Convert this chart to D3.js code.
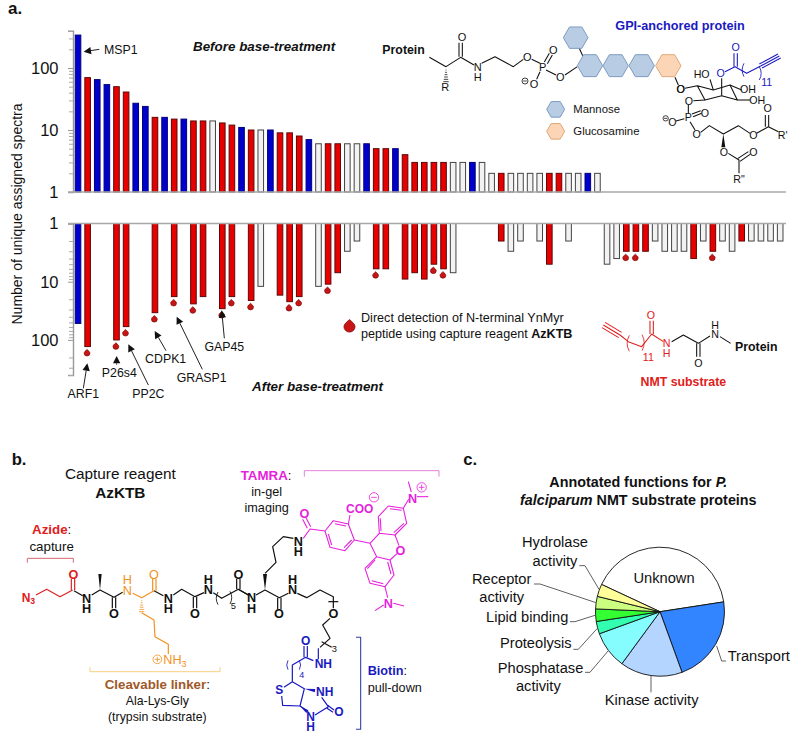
<!DOCTYPE html>
<html>
<head>
<meta charset="utf-8">
<script src="https://cdn.jsdelivr.net/npm/d3@7"></script>
<style>
html,body{margin:0;padding:0;background:#fff;}
text{font-family:"Liberation Sans",Arial,sans-serif;fill:#111;}
</style>
</head>
<body>
<div id="chart"></div>
<script>
const WIDTH=800;
const HEIGHT=735;

// one entry per protein, left to right. 0 = not seen in that experiment
const beforeValues=[340,70,65,54,50,41,27,24,16,16,15,15,14,14,14,13,12,11,10,10,10,9,9,8,7,6,6,6,6,6,6,5,5,5,4,3,3,3,3,3,3,3,3,2,2,2,2,2,2,2,2,2,2,2,2,0,0,0,0,0,0,0,0,0,0,0,0,0,0,0,0,0,0,0];
const afterValues=[52,130,0,0,100,59,0,0,34,0,18,0,24,18,0,29,18,0,21,12,0,17,22,18,0,12,11,7,3,2,0,6,6,0,9,7,9,5,6,7,0,0,0,0,2,3,2,0,2,5,0,2,0,0,0,5,4,3,3,3,2,3,3,3,4,2,3,2,3,2,2,2,2,2];
const proteinTypes=["b","r","b","b","r","r","b","b","r","b","r","b","r","r","w","r","r","b","r","w","b","r","r","r","b","w","r","r","w","w","b","r","r","b","r","r","r","r","r","w","w","b","w","w","r","w","w","w","w","r","r","w","w","b","w","w","w","r","r","r","w","w","w","w","r","w","r","w","w","r","w","w","w","w"];
const directDetection=[1,4,5,8,10,12,15,16,18,22,23,26,31,37,38,57,58,66];
const axisMajor=[1,10,100];
const axisMinor=[2,3,4,5,6,7,8,9,20,30,40,50,60,70,80,90,200,300,400];

const pieLabels=["Unknown","Transport","Kinase activity","Phosphatase activity","Proteolysis","Lipid binding","Receptor activity","Hydrolase activity"];
const pieValues=[13,7,5,3,1,1,1,1];
const pieColors=["#ffffff","#3385ff","#b3d5ff","#85fdff","#33ffb0","#33ff33","#ccff80","#ffff99"];

const BAR_FILL={b:"#0000cc",r:"#e60000",w:"#f2f2f2"};
const BAR_STROKE={b:"#00007a",r:"#5e0808",w:"#444"};
const RED="#e02020", BLUE="#1a1ac0", ORANGE="#f0921e", MAGENTA="#e61fdc", BLACK="#111";

const svg=d3.select("#chart").append("svg").attr("width",WIDTH).attr("height",HEIGHT).style("display","block");

function layer(x,y){
    return svg.append("g").attr("transform",`translate(${x},${y}) scale(${1/3})`);
}
function bonds(g,color,list,w){
    list.forEach(pts=>{
        g.append("polyline").attr("points",pts.join(" ")).attr("fill","none")
            .attr("stroke",color).attr("stroke-width",w||3.2).attr("stroke-linejoin","round");
    });
}
function rich(g,x,y,anchor,size,parts){
    const t=g.append("text").attr("x",x).attr("y",y).attr("text-anchor",anchor).attr("font-size",size);
    parts.forEach(p=>{
        const s=t.append("tspan").text(p[0]);
        const o=p[1]||{};
        if(o.bold) s.attr("font-weight","bold");
        if(o.italic) s.attr("font-style","italic");
        if(o.fill) s.style("fill",o.fill);
        if(o.dy) s.attr("dy",o.dy);
        if(o.size) s.attr("font-size",o.size);
    });
    return t;
}
function atoms(g,color,size,bold,list){
    list.forEach(a=>{
        rich(g,a[0],a[1]+size*0.36,"middle",size,[[a[2],{bold:bold,fill:color}]]);
    });
}
// N over H kept as one text, second line placed relative to the first
function stacked(g,color,size,bold,x,y,top,bottom,gap){
    const t=rich(g,x,y+size*0.36,"middle",size,[[top,{bold:bold,fill:color}]]);
    const s=t.append("tspan").attr("x",x).attr("dy",gap).text(bottom).style("fill",color);
    if(bold) s.attr("font-weight","bold");
}
function wedge(g,color,a,b,w){
    const dx=b[0]-a[0],dy=b[1]-a[1],l=Math.hypot(dx,dy);
    const nx=-dy/l*w,ny=dx/l*w;
    g.append("polygon").attr("points",[a,[b[0]+nx,b[1]+ny],[b[0]-nx,b[1]-ny]].join(" ")).attr("fill",color);
}
function hash(g,color,a,b,w){
    const n=6,dx=b[0]-a[0],dy=b[1]-a[1],l=Math.hypot(dx,dy);
    for(let i=1;i<=n;i++){
        const f=i/n,hw=w*f,nx=-dy/l*hw,ny=dx/l*hw,px=a[0]+dx*f,py=a[1]+dy*f;
        bonds(g,color,[[[px-nx,py-ny],[px+nx,py+ny]]],2.4);
    }
}
function hexagon(g,cx,cy,r,fill,stroke){
    const pts=d3.range(6).map(i=>[cx+r*Math.cos(i*Math.PI/3),cy+r*Math.sin(i*Math.PI/3)]);
    g.append("polygon").attr("points",pts.join(" ")).attr("fill",fill).attr("stroke",stroke).attr("stroke-width",3);
}
function circled(g,color,x,y,r,sign){
    g.append("circle").attr("cx",x).attr("cy",y).attr("r",r).attr("fill","none").attr("stroke",color).attr("stroke-width",2.4);
    bonds(g,color,[[[x-r*0.6,y],[x+r*0.6,y]]],2.4);
    if(sign==="+") bonds(g,color,[[[x,y-r*0.6],[x,y+r*0.6]]],2.4);
}
function paren(g,color,x,y,h,dir){
    g.append("path").attr("d",`M${x},${y-h} Q${x+dir*h*0.55},${y} ${x},${y+h}`).attr("fill","none").attr("stroke",color).attr("stroke-width",2.6);
}
function arrow(g,from,to,w){
    const dx=to[0]-from[0],dy=to[1]-from[1],l=Math.hypot(dx,dy),ux=dx/l,uy=dy/l;
    const base=[to[0]-ux*22,to[1]-uy*22];
    bonds(g,"#222",[[from,base]],w||3);
    g.append("polygon").attr("points",[to,[base[0]-uy*11,base[1]+ux*11],[base[0]+uy*11,base[1]-ux*11]].join(" ")).attr("fill","#111");
}
function drop(g,x,y,r){
    g.append("path")
        .attr("d",`M${x},${y-r*1.25} C${x+r*0.5},${y-r*0.8} ${x+r},${y-r*0.4} ${x+r},${y} A${r},${r} 0 1 1 ${x-r},${y} C${x-r},${y-r*0.4} ${x-r*0.5},${y-r*0.8} ${x},${y-r*1.25} Z`)
        .attr("fill","#c81414").attr("stroke","#7a0c0c").attr("stroke-width",0.7);
}

//Panel a, bars
const proteins=d3.range(proteinTypes.length);
const x=d3.scaleBand().domain(proteins).range([73.2,785]).padding(0);
const yTop=d3.scaleLog().domain([1,400]).range([192,30.7]);
const yBottom=d3.scaleLog().domain([1,400]).range([223.5,375]);
const BAR_W=5.6;
const barX=i=>x(i)+(x.bandwidth()-BAR_W)/2;

const gBars=svg.append("g").attr("stroke-width",1);
gBars.selectAll("rect.before").data(proteins.filter(i=>beforeValues[i]>0)).enter().append("rect")
    .attr("class","before")
    .attr("x",barX)
    .attr("y",i=>yTop(beforeValues[i]))
    .attr("width",BAR_W)
    .attr("height",i=>yTop(1)-yTop(beforeValues[i]))
    .attr("fill",i=>BAR_FILL[proteinTypes[i]])
    .attr("stroke",i=>BAR_STROKE[proteinTypes[i]]);
gBars.selectAll("rect.after").data(proteins.filter(i=>afterValues[i]>0)).enter().append("rect")
    .attr("class","after")
    .attr("x",barX)
    .attr("y",yBottom(1))
    .attr("width",BAR_W)
    .attr("height",i=>yBottom(afterValues[i])-yBottom(1))
    .attr("fill",i=>BAR_FILL[proteinTypes[i]])
    .attr("stroke",i=>BAR_STROKE[proteinTypes[i]]);

//Axes
function drawAxis(scale){
    const major=svg.append("g").attr("transform","translate(73,0)")
        .call(d3.axisLeft(scale).tickValues(axisMajor).tickSize(5).tickFormat(d3.format("d")));
    major.selectAll("line").attr("stroke","#999");
    major.select(".domain").attr("stroke","#999").attr("stroke-width",1.4);
    major.selectAll("text").attr("font-size",16.5).attr("x",-14.5).attr("font-family",null);
    const minor=svg.append("g").attr("transform","translate(73,0)")
        .call(d3.axisLeft(scale).tickValues(axisMinor).tickSize(4).tickFormat(""));
    minor.selectAll("line").attr("stroke","#aaa");
    minor.select(".domain").remove();
    svg.append("line").attr("x1",68).attr("x2",786).attr("y1",scale(1)).attr("y2",scale(1))
        .attr("stroke","#a8a8a8").attr("stroke-width",1.4);
}
drawAxis(yTop);
drawAxis(yBottom);

svg.append("text").attr("transform","translate(22,214) rotate(-90)").attr("text-anchor","middle")
    .attr("font-size",14).text("Number of unique assigned spectra");

//Direct detection markers
directDetection.forEach(i=>drop(svg,x(i)+x.bandwidth()/2-0.6,yBottom(afterValues[i])+6.5,2.9));

rich(svg,8,14,"start",17,[["a.",{bold:true}]]);
rich(svg,193,51,"start",13.4,[["Before base-treatment",{bold:true,italic:true}]]);
rich(svg,252,391,"start",13.4,[["After base-treatment",{bold:true,italic:true}]]);

drop(svg,349.5,326.5,5.6);
rich(svg,361,322,"start",12.6,[["Direct detection of N-terminal YnMyr"]]);
rich(svg,361,338,"start",12.6,[["peptide using capture reagent "],["AzKTB",{bold:true}]]);

//Protein name call-outs
const la=layer(0,0);
rich(la,312,162,"start",37,[["MSP1"]]);
arrow(la,[298,148],[251,155],3);
const lb=layer(0,210);
[["ARF1",250,565],["PP2C",445,565],["P26s4",358,500],["CDPK1",497,460],["GRASP1",605,515],["GAP45",673,422]].forEach(a=>{
    rich(lb,a[1],a[2],"middle",37,[[a[0]]]);
});
arrow(lb,[250,535],[262,460]);
arrow(lb,[350,464],[350,438]);
arrow(lb,[445,525],[385,403]);
arrow(lb,[498,422],[464,363]);
arrow(lb,[607,478],[530,320]);
arrow(lb,[673,385],[665,301]);

//GPI anchor
const gpi=layer(370,0);
rich(gpi,37,163,"start",37,[["Protein",{bold:true}]]);
rich(gpi,930,90,"middle",38,[["GPI-anchored protein",{bold:true,fill:BLUE}]]);
bonds(gpi,BLACK,[
    [[178,172],[228,200],[272,172],[312,195]],
    [[267,170],[267,128]],[[277,170],[277,128]],
    [[335,190],[375,170],[430,200],[460,178]],
    [[485,178],[510,190]],
    [[523,186],[538,160]],[[532,191],[547,165]],
    [[510,215],[500,238]],
    [[528,210],[558,225]],
    [[585,225],[622,200]],
    [[628,145],[638,167]],
    [[915,232],[925,255]]
]);
hash(gpi,BLACK,[228,203],[228,245],8);
atoms(gpi,BLACK,33,false,[[276,112,"O"],[226,260,"R"],[472,170,"O"],[518,200,"P"],[550,150,"O"],[492,253,"O"],[571,230,"O"],[932,267,"O"]]);
stacked(gpi,BLACK,33,false,323,200,"N","H",30);
circled(gpi,BLACK,465,243,9,"-");
hexagon(gpi,617,113,37,"#b8cce4","#7d9cc0");
[660,737,815].forEach(cx=>hexagon(gpi,cx,197,38,"#b8cce4","#7d9cc0"));
hexagon(gpi,895,197,38,"#fbd5b5","#e0a878");
hexagon(gpi,557,328,27,"#b8cce4","#7d9cc0");
hexagon(gpi,557,394,27,"#fbd5b5","#e0a878");
rich(gpi,610,340,"start",34,[["Mannose"]]);
rich(gpi,610,405,"start",34,[["Glucosamine"]]);

const ino=layer(660,40);
bonds(ino,BLACK,[
    [[75,145],[112,137],[135,180],[185,167],[232,180],[210,135],[160,150],[112,137]],
    [[160,150],[150,118]],
    [[185,115],[185,167]],
    [[210,135],[245,150]],
    [[232,180],[270,180]],
    [[135,180],[100,182]],
    [[85,193],[85,220]],
    [[96,222],[122,212]],[[99,230],[125,220]],
    [[73,236],[48,243]],
    [[90,245],[105,270]],
    [[122,277],[148,257],[190,282],[235,257],[270,280]],
    [[290,280],[325,260],[355,275]],
    [[316,260],[316,225]],[[326,260],[326,225]],
    [[205,340],[237,360],[237,400]],
    [[233,356],[265,335]],[[240,364],[270,343]]
]);
wedge(ino,BLACK,[190,282],[190,322],6);
atoms(ino,BLACK,32,false,[[62,148,"O"],[125,103,"HO"],[264,148,"OH"],[292,180,"OH"],[87,182,"O"],[85,232,"P"],[135,218,"O"],[37,247,"O"],[110,282,"O"],[280,285,"O"],[323,205,"O"],[368,285,"R'"],[192,337,"O"],[280,335,"O"],[237,418,'R"']]);
circled(ino,BLACK,17,235,8,"-");
bonds(ino,BLUE,[
    [[195,95],[225,80],[260,100],[302,78]],
    [[222,80],[222,40]],[[232,80],[232,40]],
    [[302,78],[358,48]],[[298,72],[354,42]],[[306,84],[362,54]]
]);
paren(ino,BLUE,252,90,20,-1);
paren(ino,BLUE,298,100,20,1);
atoms(ino,BLUE,32,false,[[182,100,"O"],[227,22,"O"],[320,125,"11"]]);

//NMT substrate
const nmt=layer(320,210);
bonds(nmt,RED,[
    [[850,345],[900,375]],[[855,337],[905,367]],[[846,353],[896,383]],
    [[900,375],[925,395],[965,410],[995,372],[1030,395]],
    [[990,372],[990,332]],[[1000,372],[1000,332]]
]);
paren(nmt,RED,928,400,24,-1);
paren(nmt,RED,966,398,24,1);
bonds(nmt,BLACK,[
    [[1055,395],[1090,375],[1135,400],[1170,378]],
    [[1130,400],[1130,440]],[[1140,400],[1140,440]],
    [[1200,380],[1232,400]]
]);
atoms(nmt,RED,32,false,[[993,316,"O"],[985,441,"11"]]);
stacked(nmt,RED,32,false,1040,400,"N","H",30);
atoms(nmt,BLACK,32,false,[[1135,460,"O"]]);
stacked(nmt,BLACK,32,false,1185,345,"H","N",27);
rich(nmt,1245,423,"start",37,[["Protein",{bold:true}]]);
rich(nmt,1090,527,"middle",37,[["NMT substrate",{bold:true,fill:RED}]]);

//Panel b
const b1=layer(0,430);
rich(b1,35,105,"start",50,[["b.",{bold:true}]]);
rich(b1,361,148,"middle",46,[["Capture reagent"]]);
rich(b1,361,203,"middle",46,[["AzKTB",{bold:true}]]);
rich(b1,155,313,"middle",40,[["Azide",{bold:true,fill:RED}],[":"]]);
rich(b1,155,362,"middle",40,[["capture"]]);
bonds(b1,"#d0505a",[[[82,398],[82,385],[220,385],[220,398]]],2.6);
bonds(b1,RED,[
    [[108,495],[140,478],[180,500],[218,480]],
    [[214,480],[214,447]],[[224,480],[224,447]]
],3.6);
rich(b1,65,515,"start",36,[["N",{bold:true,fill:RED}],["3",{bold:true,fill:RED,dy:8,size:26}]]);
atoms(b1,RED,38,true,[[220,432,"O"]]);
bonds(b1,BLACK,[
    [[222,482],[248,497]],
    [[275,495],[300,480],[342,502],[368,487]],
    [[337,502],[337,535]],[[347,502],[347,535]],
    [[490,497],[462,482]],
    [[520,495],[545,478],[585,500],[612,488]],
    [[580,500],[580,535]],[[590,500],[590,535]],
    [[640,488],[665,505],[715,478],[745,495]],
    [[710,478],[710,447]],[[720,478],[720,447]]
],3.6);
wedge(b1,BLACK,[300,480],[300,432],5);
paren(b1,BLACK,654,505,19,-1);
paren(b1,BLACK,690,503,19,1);
atoms(b1,BLACK,38,true,[[342,550,"O"],[585,550,"O"],[715,432,"O"]]);
stacked(b1,BLACK,38,true,260,505,"N","H",31);
stacked(b1,BLACK,38,true,505,505,"N","H",31);
stacked(b1,BLACK,38,true,625,447,"H","N",31);
atoms(b1,BLACK,28,false,[[700,527,"5"]]);
bonds(b1,ORANGE,[
    [[398,490],[425,503],[462,482]],
    [[458,482],[458,447]],[[468,482],[468,447]],
    [[425,548],[462,570],[465,620],[505,643],[505,672]]
],3.6);
hash(b1,ORANGE,[425,505],[425,545],8);
atoms(b1,ORANGE,38,false,[[462,432,"O"]]);
stacked(b1,ORANGE,38,false,382,447,"H","N",33);
circled(b1,ORANGE,472,688,13,"+");
rich(b1,490,702,"start",38,[["NH",{fill:ORANGE}],["3",{fill:ORANGE,dy:8,size:27}]]);
bonds(b1,"#f4c870",[[[270,712],[270,725],[660,725],[660,712]]],2.6);
rich(b1,472,777,"middle",40,[["Cleavable linker",{bold:true,fill:"#a05a28"}],[":"]]);
rich(b1,472,825,"middle",37,[["Ala-Lys-Gly"]]);
rich(b1,472,872,"middle",37,[["(trypsin substrate)"]]);

const b2=layer(220,430);
rich(b2,62,150,"start",40,[["TAMRA",{bold:true,fill:MAGENTA}],[":"]]);
rich(b2,140,197,"middle",38,[["in-gel"]]);
rich(b2,140,246,"middle",38,[["imaging"]]);
bonds(b2,"#e070d4",[[[253,140],[253,122],[657,122],[657,140]]],2.6);
bonds(b2,BLACK,[
    [[55,478],[85,495]],
    [[108,495],[135,480],[178,503],[205,490]],
    [[173,503],[173,538]],[[183,503],[183,538]],
    [[232,490],[260,503],[300,480],[340,500],[340,535]],
    [[325,515],[355,515]],
    [[330,565],[308,585],[330,625],[300,652]],
    [[305,635],[335,652]],
    [[135,430],[168,397],[158,350],[190,320],[220,325]]
],3.6);
wedge(b2,BLACK,[135,480],[135,432],6);
atoms(b2,BLACK,38,true,[[177,550,"O"],[340,550,"O"]]);
stacked(b2,BLACK,38,true,95,503,"N","H",32);
stacked(b2,BLACK,38,true,218,447,"H","N",31);
stacked(b2,BLACK,38,true,235,333,"N","H",32);
atoms(b2,BLACK,28,false,[[343,655,"3"]]);
bonds(b2,MAGENTA,[
    [[250,325],[270,297],[315,303],[340,272],[385,282],[403,330],[375,362],[330,352],[315,303]],
    [[262,295],[248,268]],[[272,290],[258,263]],
    [[345,281],[378,288]],[[395,330],[372,353]],[[335,345],[325,312]],
    [[385,282],[390,255]],
    [[403,330],[450,340]],
    [[450,340],[478,310],[475,260],[505,228],[550,235],[560,280],[525,315],[478,310]],
    [[483,303],[481,265]],[[510,236],[545,241]],[[552,280],[522,307]],
    [[525,315],[537,347]],
    [[450,340],[470,380],[435,415],[450,460],[495,470],[522,435],[510,390],[470,380]],
    [[465,390],[442,416]],[[455,452],[490,461]],[[513,432],[503,396]],
    [[510,390],[532,370]],
    [[550,235],[566,208]],
    [[565,155],[574,186]],[[591,200],[625,200]],
    [[495,470],[503,503]],[[491,525],[465,542]],[[520,520],[552,528]]
],3.2);
atoms(b2,MAGENTA,38,true,[[253,250,"O"],[578,204,"N"],[541,360,"O"],[505,520,"N"]]);
rich(b2,378,249,"start",36,[["COO",{bold:true,fill:MAGENTA}]]);
circled(b2,MAGENTA,462,202,14,"-");
circled(b2,MAGENTA,605,172,14,"+");

const biotin=layer(260,600);
bonds(biotin,BLUE,[
    [[175,145],[175,178]],
    [[160,182],[137,172],[97,195],[97,245],[72,262]],
    [[132,172],[132,138]],[[142,172],[142,138]],
    [[65,288],[68,316],[120,318],[133,266],[97,245]],
    [[120,318],[145,335]],
    [[185,292],[205,320],[165,345]],
    [[203,316],[222,330]],[[200,324],[219,337]]
],3.6);
wedge(biotin,BLUE,[133,266],[165,272],5);
wedge(biotin,BLUE,[120,318],[142,335],5);
paren(biotin,BLUE,84,195,14,-1);
paren(biotin,BLUE,118,195,14,1);
atoms(biotin,BLUE,36,true,[[137,122,"O"],[190,192,"NH"],[58,270,"S"],[194,274,"NH"],[237,335,"O"]]);
stacked(biotin,BLUE,36,true,152,350,"N","H",30);
atoms(biotin,BLUE,27,false,[[125,223,"4"]]);
bonds(biotin,"#2a3fa5",[[[288,112],[302,112],[302,388],[288,388]]],3.2);
rich(biotin,323,225,"start",38,[["Biotin",{bold:true,fill:BLUE}],[":"]]);
rich(biotin,323,277,"start",38,[["pull-down"]]);

//Panel c, pie
const pie=d3.pie().sort(null).startAngle(-65*Math.PI/180).endAngle(295*Math.PI/180);
const arc=d3.arc().innerRadius(0).outerRadius(64.5);
svg.append("g").attr("transform","translate(660,611.7)")
    .selectAll("path").data(pie(pieValues)).enter().append("path")
    .attr("d",arc)
    .attr("fill",(d,i)=>pieColors[i])
    .attr("stroke","#111")
    .attr("stroke-width",0.9);

const c=layer(460,440);
rich(c,10,75,"start",50,[["c.",{bold:true}]]);
rich(c,535,140,"middle",43,[["Annotated functions for ",{bold:true}],["P.",{bold:true,italic:true}]]);
rich(c,535,195,"middle",43,[["falciparum",{bold:true,italic:true}],[" NMT substrate proteins",{bold:true}]]);
rich(c,285,322,"middle",44,[["Hydrolase"]]);
rich(c,285,377,"middle",44,[["activity"]]);
rich(c,125,432,"middle",44,[["Receptor"]]);
rich(c,125,487,"middle",44,[["activity"]]);
rich(c,325,545,"end",44,[[pieLabels[5]]]);
rich(c,335,625,"end",44,[[pieLabels[4]]]);
rich(c,370,698,"end",44,[["Phosphatase"]]);
rich(c,235,752,"middle",44,[["activity"]]);
rich(c,612,428,"middle",44,[[pieLabels[0]]]);
rich(c,803,663,"start",44,[[pieLabels[1]]]);
rich(c,575,795,"middle",44,[[pieLabels[2]]]);
bonds(c,"#555",[
    [[358,377],[375,377],[417,448]],
    [[222,432],[240,432],[408,488]],
    [[330,545],[345,545],[408,525]],
    [[340,628],[355,628],[412,565]],
    [[375,697],[390,697],[445,632]],
    [[573,708],[573,757]],
    [[770,618],[785,663],[798,663]]
],2.8);
</script>
</body>
</html>
